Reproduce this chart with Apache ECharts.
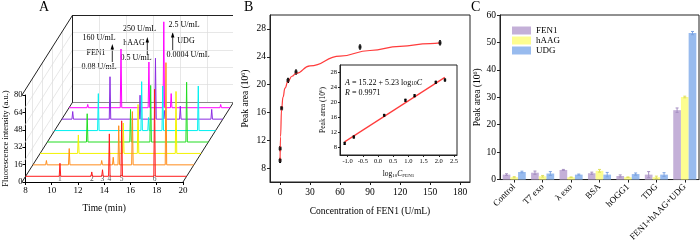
<!DOCTYPE html>
<html>
<head>
<meta charset="utf-8">
<script src="https://cdn.jsdelivr.net/npm/echarts@6/dist/echarts.min.js"></script>
<style>
html, body { margin: 0; padding: 0; background: #fff; }
#main { width: 700px; height: 244px; }
</style>
</head>
<body>
<div id="main"></div>
<script>
// panel A: peaks of each chromatogram, [time (min), intensity (a.u.)], front trace first
var peaksRed = [[10.56, 12], [12.93, 4], [13.73, 6], [14.24, 39], [15.16, 51], [17.61, 80]];
var peaksOrange = [[9.01, 4], [10.71, 15], [13.13, 4], [13.99, 7], [14.40, 36], [15.42, 49], [17.92, 94]];
var peaksYellow = [[10.85, 17], [14.20, 28], [15.30, 45], [18.13, 57]];
var peaksGreen = [[10.97, 26], [14.20, 30], [15.70, 52], [18.38, 55]];
var peaksCyan = [[11.26, 34], [14.49, 45], [15.00, 12], [16.06, 41], [18.71, 41]];
var peaksPurple = [[8.81, 7], [11.59, 39], [13.83, 22], [14.98, 56], [15.64, 8], [16.83, 12], [19.17, 9]];
var peaksMagenta = [[9.39, 3], [11.87, 54], [13.95, 42], [15.06, 79], [15.61, 13], [19.30, 3]];
var peakNumbers = ['1', '2', '3', '4', '5', '6'];
var timeTicks = [10, 12, 14, 16, 18];
var intensityGrid = [16, 32, 48, 64];

// panel B
var fen1Conc = [0.08, 0.16, 1.6, 8, 16, 80, 160];
var fen1Area = [9.1, 10.8, 16.6, 20.6, 21.8, 25.4, 26.0];
var fen1Err = [0.3, 0.3, 0.25, 0.3, 0.3, 0.3, 0.3];
var fitCurve = [[0.08, 9.0], [0.5, 12.5], [1.6, 16.5], [3, 18.2], [5, 19.5], [8, 20.5], [12, 21.2],
    [16, 21.6], [30, 22.7], [60, 24.1], [90, 24.9], [120, 25.5], [150, 25.9], [160, 26.0]];
var fitLineX = [-1.1, 2.2];
var fitLineY = [9.5, 26.7];
var areaTicks = [8, 12, 16, 20, 24, 28];
var concTicks = [0, 30, 60, 90, 120, 150, 180];
var logTicks = [-1.0, -0.5, 0.0, 0.5, 1.0, 1.5, 2.0, 2.5];

// panel C
var enzymes = ['Control', 'T7 exo', 'λ exo', 'BSA', 'hOGG1', 'TDG', 'FEN1+hAAG+UDG'];
var fen1Bars = [1.8, 2.5, 3.5, 2.3, 1.3, 1.8, 25.3];
var haagBars = [0.85, 1.2, 0.85, 3.2, 0.85, 0.85, 30.1];
var udgBars = [2.75, 2.2, 1.8, 1.8, 2.0, 1.8, 53.4];
var fen1BarErr = [0.3, 0.6, 0.2, 0.4, 0.4, 1.1, 0.8];
var haagBarErr = [0.2, 0.3, 0.1, 0.5, 0.1, 0.4, 0.3];
var udgBarErr = [0.3, 0.7, 0.2, 0.8, 0.4, 0.7, 0.6];

var serif = "'Liberation Serif', 'Times New Roman', serif";

var chartA = (function () {
    // front box 8-20 min x 0-80, back plane shifted by depthPx
    var front = { left: 22, top: 95, width: 161, height: 87 };
    var pxX = front.width / 12, pxY = front.height / 80;
    var depthPx = [50.7, 80];
    var data = { left: 22, top: 15, width: 210, height: 167 };
    var depthX = depthPx[0] / pxX, depthY = depthPx[1] / pxY;
    var PEAK_HALF = 0.055;

    var traceLine = function (peaks, k) {
        var d = (k + 0.5) / 7, pts = [[8, 0]];
        peaks.forEach(function (p) {
            pts.push([p[0] - PEAK_HALF, 0], [p[0], p[1]], [p[0] + PEAK_HALF, 0]);
        });
        pts.push([20, 0]);
        return pts.map(function (p) { return [p[0] + d * depthX, p[1] + d * depthY]; });
    };
    var back = function (t, v) { return [t + depthX, v + depthY]; };
    var seg = function (a, b) { return { coords: [a, b] }; };

    var gridSegs = [];
    timeTicks.forEach(function (t) {
        gridSegs.push(seg(back(t, 0), back(t, 80)));
    });
    intensityGrid.forEach(function (v) {
        gridSegs.push(seg(back(8, v), back(20, v)));
        gridSegs.push(seg([8, v], back(8, v)));
    });
    [0.2, 0.4, 0.6, 0.8].forEach(function (f) {
        gridSegs.push(seg([8 + f * depthX, f * depthY], [8 + f * depthX, 80 + f * depthY]));
    });
    var frameSegs = [
        seg([8, 0], back(8, 0)), seg([20, 0], back(20, 0)), seg([8, 80], back(8, 80)),
        seg(back(8, 0), back(8, 80)), seg(back(8, 80), back(20, 80))
    ];
    var backSegs = [seg(back(8, 0), back(20, 0)), seg(back(20, 0), back(20, 80))];

    var traces = [
        { peaks: peaksMagenta, k: 6, color: '#ff00ff' },
        { peaks: peaksPurple, k: 5, color: '#8a2be2' },
        { peaks: peaksCyan, k: 4, color: '#00f0f0' },
        { peaks: peaksGreen, k: 3, color: '#22dd22' },
        { peaks: peaksYellow, k: 2, color: '#f2f200' },
        { peaks: peaksOrange, k: 1, color: '#ff8c1a' },
        { peaks: peaksRed, k: 0, color: '#ff1a1a' }
    ];
    var d0 = 0.5 / 7;
    var numberPts = peakNumbers.map(function (n, i) {
        return { value: [peaksRed[i][0] + d0 * depthX, 2.4], name: n };
    });

    return {
        grids: [front, data],
        xAxes: [
            { gridIndex: 0, type: 'value', min: 8, max: 20, interval: 2,
              axisLine: { lineStyle: { color: '#000' } }, axisTick: { length: 3, lineStyle: { color: '#000' } },
              axisLabel: { fontFamily: serif, fontSize: 9, color: '#000', margin: 4 },
              splitLine: { show: false },
              name: 'Time (min)', nameLocation: 'middle', nameGap: 21,
              nameTextStyle: { fontFamily: serif, fontSize: 9.5, color: '#000' } },
            { gridIndex: 1, type: 'value', min: 8, max: 8 + data.width / pxX, show: false }
        ],
        yAxes: [
            { gridIndex: 0, type: 'value', min: 0, max: 80, interval: 16,
              axisLine: { show: true, lineStyle: { color: '#000' } }, axisTick: { show: true, length: 3, lineStyle: { color: '#000' } },
              axisLabel: { fontFamily: serif, fontSize: 8.5, color: '#000', margin: 3 },
              splitLine: { show: false },
              name: 'Fluorescence intensity (a.u.)', nameLocation: 'middle', nameGap: 14,
              nameTextStyle: { fontFamily: serif, fontSize: 8.5, color: '#000' } },
            { gridIndex: 1, type: 'value', min: 0, max: data.height / pxY, show: false }
        ],
        series: [
            { type: 'lines', coordinateSystem: 'cartesian2d', xAxisIndex: 1, yAxisIndex: 1, silent: true,
              lineStyle: { color: '#dcdcdc', width: 0.7, opacity: 1 }, data: gridSegs },
            { type: 'lines', coordinateSystem: 'cartesian2d', xAxisIndex: 1, yAxisIndex: 1, silent: true,
              lineStyle: { color: '#888', width: 1, opacity: 1 }, data: backSegs },
            { type: 'lines', coordinateSystem: 'cartesian2d', xAxisIndex: 1, yAxisIndex: 1, silent: true,
              lineStyle: { color: '#222', width: 1, opacity: 1 }, data: frameSegs }
        ].concat(traces.map(function (tr) {
            return { type: 'line', xAxisIndex: 1, yAxisIndex: 1, data: traceLine(tr.peaks, tr.k),
                     showSymbol: false, clip: false, lineStyle: { color: tr.color, width: 1 } };
        })).concat([
            { type: 'scatter', xAxisIndex: 1, yAxisIndex: 1, symbolSize: 0, data: numberPts,
              label: { show: true, position: 'inside', formatter: '{b}', fontFamily: serif, fontSize: 7.5, color: '#222' } }
        ])
    };
})();

var errorItem = function (offset, cap) {
    return function (params, api) {
        var x = api.value(0), y = api.value(1), e = api.value(2);
        var hi = api.coord([x, y + e]), lo = api.coord([x, y - e]);
        var cx = hi[0] + offset;
        var st = { stroke: api.visual('color'), lineWidth: 1 };
        return { type: 'group', children: [
            { type: 'line', shape: { x1: cx, y1: hi[1], x2: cx, y2: lo[1] }, style: st },
            { type: 'line', shape: { x1: cx - cap, y1: hi[1], x2: cx + cap, y2: hi[1] }, style: st },
            { type: 'line', shape: { x1: cx - cap, y1: lo[1], x2: cx + cap, y2: lo[1] }, style: st }
        ] };
    };
};

var axisBase = function (extra) {
    var base = {
        axisLine: { show: true, onZero: false, lineStyle: { color: '#222' } },
        axisTick: { show: true, length: 3, lineStyle: { color: '#222' } },
        splitLine: { show: false },
        nameLocation: 'middle'
    };
    for (var k in extra) base[k] = extra[k];
    return base;
};

var richSup = { s: { fontFamily: serif, fontSize: 6, verticalAlign: 'top', color: '#000' } };

var option = {
    animation: false,
    textStyle: { fontFamily: serif },
    grid: chartA.grids.concat([
        { left: 270, top: 15, width: 200, height: 167, show: true, borderColor: '#222', borderWidth: 1 },
        { left: 340, top: 65, width: 117, height: 90, show: true, borderColor: '#222', borderWidth: 1, backgroundColor: '#fff' },
        { left: 500, top: 15, width: 199, height: 167, show: true, borderColor: '#222', borderWidth: 1 }
    ]),
    xAxis: chartA.xAxes.concat([
        axisBase({ gridIndex: 2, type: 'value', min: -10, max: 190,
            axisLabel: { customValues: concTicks, fontFamily: serif, fontSize: 9.5, color: '#000', margin: 5 },
            axisTick: { show: true, customValues: concTicks, length: 3, lineStyle: { color: '#222' } },
            name: 'Concentration of FEN1 (U/mL)', nameGap: 24,
            nameTextStyle: { fontFamily: serif, fontSize: 9.5, color: '#000' } }),
        axisBase({ gridIndex: 3, type: 'value', min: -1.25, max: 2.6,
            axisLabel: { customValues: logTicks, fontFamily: serif, fontSize: 6.5, color: '#000', margin: 3,
                formatter: function (v) { return v.toFixed(1); } },
            axisTick: { show: true, customValues: logTicks, length: 2, lineStyle: { color: '#222' } },
            name: 'log{sb|10}{i|C}{sb|FEN1}', nameGap: 15,
            nameTextStyle: { fontFamily: serif, fontSize: 7.5, color: '#000',
                rich: { sb: { fontFamily: serif, fontSize: 5, verticalAlign: 'bottom', color: '#000' },
                        i: { fontFamily: serif, fontSize: 7.5, fontStyle: 'italic', color: '#000' } } } }),
        axisBase({ gridIndex: 4, type: 'category', data: enzymes,
            axisTick: { show: true, alignWithLabel: true, length: 3, lineStyle: { color: '#222' } },
            axisLabel: { interval: 0, rotate: 45, fontFamily: serif, fontSize: 9, color: '#000', margin: 6 } })
    ]),
    yAxis: chartA.yAxes.concat([
        axisBase({ gridIndex: 2, type: 'value', min: 6, max: 30,
            axisLabel: { customValues: areaTicks, fontFamily: serif, fontSize: 9.5, color: '#000', margin: 4 },
            axisTick: { show: true, customValues: areaTicks, length: 3, lineStyle: { color: '#222' } },
            name: 'Peak area (10{s|6})', nameGap: 20,
            nameTextStyle: { fontFamily: serif, fontSize: 9.5, color: '#000', rich: richSup } }),
        axisBase({ gridIndex: 3, type: 'value', min: 6, max: 30,
            axisLabel: { customValues: areaTicks, fontFamily: serif, fontSize: 6.5, color: '#000', margin: 3 },
            axisTick: { show: true, customValues: areaTicks, length: 2, lineStyle: { color: '#222' } },
            name: 'Peak area (10{s|6})', nameGap: 12,
            nameTextStyle: { fontFamily: serif, fontSize: 7.5, color: '#000',
                rich: { s: { fontFamily: serif, fontSize: 5, verticalAlign: 'top', color: '#000' } } } }),
        axisBase({ gridIndex: 4, type: 'value', min: 0, max: 60, interval: 10,
            axisLabel: { fontFamily: serif, fontSize: 9.5, color: '#000', margin: 4 },
            name: 'Peak area (10{s|6})', nameGap: 18,
            nameTextStyle: { fontFamily: serif, fontSize: 9.5, color: '#000', rich: richSup } })
    ]),
    legend: {
        data: ['FEN1', 'hAAG', 'UDG'], orient: 'vertical', left: 507, top: 21,
        itemWidth: 19, itemHeight: 8, itemGap: 1, icon: 'rect',
        textStyle: { fontFamily: serif, fontSize: 9, color: '#000' }
    },
    series: chartA.series.concat([
        // panel B main
        { type: 'line', xAxisIndex: 2, yAxisIndex: 2, data: fitCurve, smooth: 0.5, smoothMonotone: 'x',
          showSymbol: false, lineStyle: { color: '#ff3c3c', width: 1.2 } },
        { type: 'custom', xAxisIndex: 2, yAxisIndex: 2, renderItem: errorItem(0, 1), itemStyle: { color: '#000' },
          data: fen1Conc.map(function (c, i) { return [c, fen1Area[i], fen1Err[i]]; }), z: 3 },
        { type: 'scatter', xAxisIndex: 2, yAxisIndex: 2, symbol: 'rect', symbolSize: 3, itemStyle: { color: '#000' },
          data: fen1Conc.map(function (c, i) { return [c, fen1Area[i]]; }), z: 4 },
        // panel B inset
        { type: 'line', xAxisIndex: 3, yAxisIndex: 3, data: fitLineX.map(function (x, i) { return [x, fitLineY[i]]; }),
          showSymbol: false, lineStyle: { color: '#ff3c3c', width: 1.2 }, z: 5 },
        { type: 'custom', xAxisIndex: 3, yAxisIndex: 3, renderItem: errorItem(0, 1), itemStyle: { color: '#000' },
          data: fen1Conc.map(function (c, i) { return [Math.log10(c), fen1Area[i], fen1Err[i]]; }), z: 6 },
        { type: 'scatter', xAxisIndex: 3, yAxisIndex: 3, symbol: 'rect', symbolSize: 2.5, itemStyle: { color: '#000' },
          data: fen1Conc.map(function (c, i) { return [Math.log10(c), fen1Area[i]]; }), z: 7 },
        // panel C
        { name: 'FEN1', type: 'bar', xAxisIndex: 4, yAxisIndex: 4, data: fen1Bars, barWidth: 7.7, barGap: '0%',
          itemStyle: { color: '#c4b0d8' } },
        { name: 'hAAG', type: 'bar', xAxisIndex: 4, yAxisIndex: 4, data: haagBars, barWidth: 7.7, barGap: '0%',
          itemStyle: { color: '#fdfd90' } },
        { name: 'UDG', type: 'bar', xAxisIndex: 4, yAxisIndex: 4, data: udgBars, barWidth: 7.7, barGap: '0%',
          itemStyle: { color: '#98bbee' } },
        { type: 'custom', xAxisIndex: 4, yAxisIndex: 4, renderItem: errorItem(-7.7, 1.5), itemStyle: { color: '#a690c2' },
          data: fen1Bars.map(function (v, i) { return [i, v, fen1BarErr[i]]; }), z: 3 },
        { type: 'custom', xAxisIndex: 4, yAxisIndex: 4, renderItem: errorItem(0, 1.5), itemStyle: { color: '#e0e060' },
          data: haagBars.map(function (v, i) { return [i, v, haagBarErr[i]]; }), z: 3 },
        { type: 'custom', xAxisIndex: 4, yAxisIndex: 4, renderItem: errorItem(7.7, 1.5), itemStyle: { color: '#7ea4e2' },
          data: udgBars.map(function (v, i) { return [i, v, udgBarErr[i]]; }), z: 3 }
    ]),
    graphic: [
        { type: 'text', left: 39, top: 0, style: { text: 'A', font: '14px ' + serif, fill: '#000' } },
        { type: 'text', left: 244, top: 0, style: { text: 'B', font: '14px ' + serif, fill: '#000' } },
        { type: 'text', left: 471, top: 0, style: { text: 'C', font: '14px ' + serif, fill: '#000' } },
        // arrows and labels of panel A
        { type: 'text', x: 99, y: 38, style: { text: '160 U/mL', font: '8px ' + serif, fill: '#000', align: 'center', verticalAlign: 'middle' } },
        { type: 'text', x: 96, y: 53, style: { text: 'FEN1', font: '8px ' + serif, fill: '#000', align: 'center', verticalAlign: 'middle' } },
        { type: 'text', x: 99, y: 67, style: { text: '0.08 U/mL', font: '8px ' + serif, fill: '#000', align: 'center', verticalAlign: 'middle' } },
        { type: 'line', shape: { x1: 112.3, y1: 62, x2: 112.3, y2: 48 }, style: { stroke: '#000', lineWidth: 0.8 } },
        { type: 'polygon', shape: { points: [[112.3, 44], [110.6, 49.5], [114, 49.5]] }, style: { fill: '#000' } },
        { type: 'text', x: 139.5, y: 29, style: { text: '250 U/mL', font: '8px ' + serif, fill: '#000', align: 'center', verticalAlign: 'middle' } },
        { type: 'text', x: 134, y: 43, style: { text: 'hAAG', font: '8px ' + serif, fill: '#000', align: 'center', verticalAlign: 'middle' } },
        { type: 'text', x: 136, y: 58, style: { text: '0.5 U/mL', font: '8px ' + serif, fill: '#000', align: 'center', verticalAlign: 'middle' } },
        { type: 'line', shape: { x1: 147.3, y1: 55, x2: 147.3, y2: 41 }, style: { stroke: '#000', lineWidth: 0.8 } },
        { type: 'polygon', shape: { points: [[147.3, 37], [145.6, 42.5], [149, 42.5]] }, style: { fill: '#000' } },
        { type: 'text', x: 184, y: 25, style: { text: '2.5 U/mL', font: '8px ' + serif, fill: '#000', align: 'center', verticalAlign: 'middle' } },
        { type: 'text', x: 186, y: 41, style: { text: 'UDG', font: '8px ' + serif, fill: '#000', align: 'center', verticalAlign: 'middle' } },
        { type: 'text', x: 188, y: 55, style: { text: '0.0004 U/mL', font: '8px ' + serif, fill: '#000', align: 'center', verticalAlign: 'middle' } },
        { type: 'line', shape: { x1: 172.7, y1: 50, x2: 172.7, y2: 36 }, style: { stroke: '#000', lineWidth: 0.8 } },
        { type: 'polygon', shape: { points: [[172.7, 32], [171, 37.5], [174.4, 37.5]] }, style: { fill: '#000' } },
        // fit text of the inset
        { type: 'text', x: 345, y: 83, z: 100, style: {
            text: '{i|A} = 15.22 + 5.23 log{sb|10}{i|C}', font: '8px ' + serif, fill: '#000', verticalAlign: 'middle',
            rich: { i: { font: 'italic 8px ' + serif }, sb: { font: '5.5px ' + serif, verticalAlign: 'bottom' } } } },
        { type: 'text', x: 345, y: 93, z: 100, style: {
            text: '{i|R} = 0.9971', font: '8px ' + serif, fill: '#000', verticalAlign: 'middle',
            rich: { i: { font: 'italic 8px ' + serif } } } }
    ]
};

var myChart = echarts.init(document.getElementById('main'));
myChart.setOption(option);
</script>
</body>
</html>
